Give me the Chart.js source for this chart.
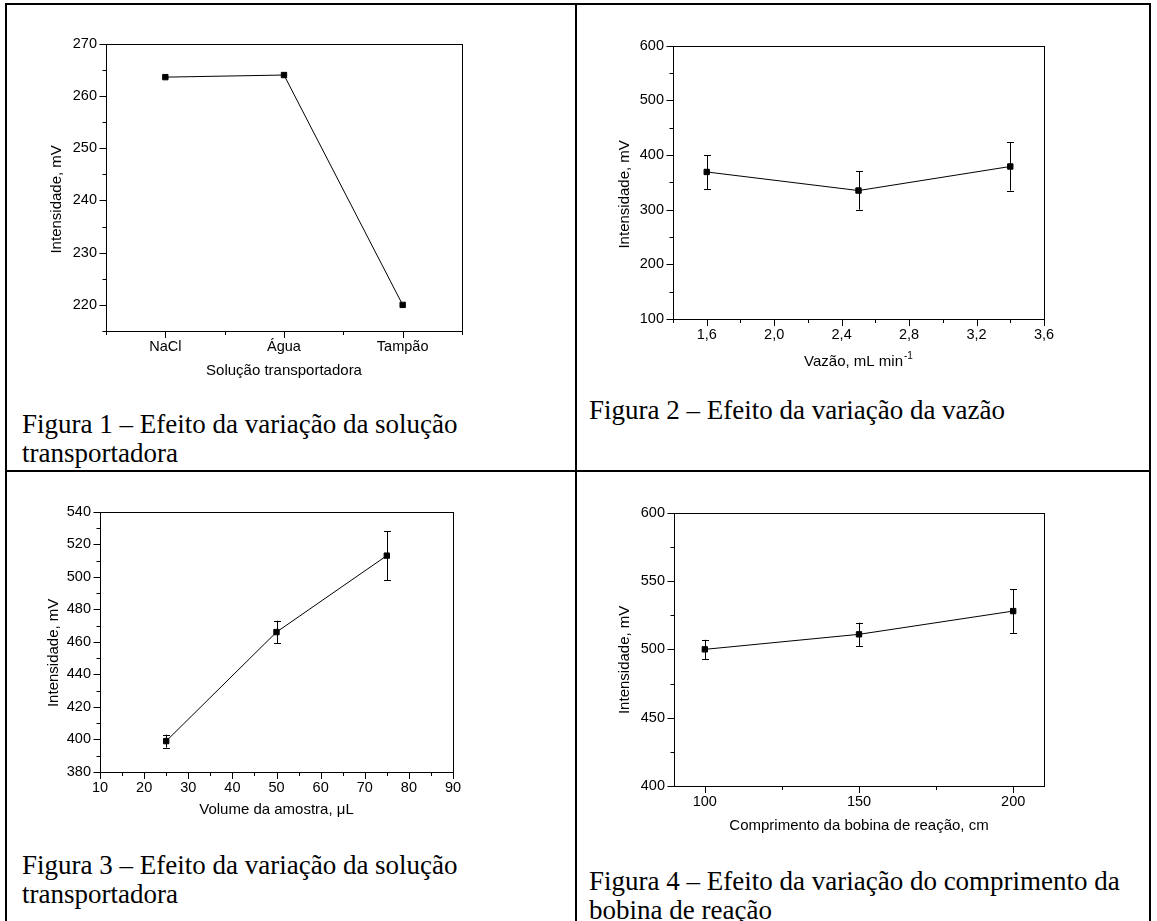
<!DOCTYPE html>
<html lang="pt">
<head>
<meta charset="utf-8">
<title>Figuras 1–4</title>
<script src="https://cdn.jsdelivr.net/npm/chart.js@4.4.1/dist/chart.umd.min.js"></script>
<style>
  html, body { margin: 0; padding: 0; background: #fff; }
  body { width: 1157px; height: 921px; position: relative; overflow: hidden; }
  .rule { position: absolute; background: #000; }
  .cap {
    position: absolute; white-space: nowrap; color: #000;
    font-family: "Liberation Serif", "Times New Roman", serif;
    font-size: 27px; line-height: 29px;
  }
  canvas { position: absolute; }
</style>
</head>
<body>
<!-- table rules -->
<div class="rule" style="left:5px;top:3px;width:1146px;height:2px"></div>
<div class="rule" style="left:5px;top:3px;width:2px;height:918px"></div>
<div class="rule" style="left:575px;top:3px;width:2px;height:918px"></div>
<div class="rule" style="left:1149px;top:3px;width:2px;height:918px"></div>
<div class="rule" style="left:5px;top:470px;width:1146px;height:2px"></div>

<div class="cap" style="left:22px;top:410px">Figura 1 – Efeito da variação da solução<br>transportadora</div>
<div class="cap" style="left:589px;top:396px">Figura 2 – Efeito da variação da vazão</div>
<div class="cap" style="left:22px;top:851px">Figura 3 – Efeito da variação da solução<br>transportadora</div>
<div class="cap" style="left:589px;top:867px">Figura 4 – Efeito da variação do comprimento da<br>bobina de reação</div>

<script>
// Figura 1 – solução transportadora
const carrierNames = ['NaCl', 'Água', 'Tampão'];
const carrierIntensity = [263.6, 264.0, 220.0];

// Figura 2 – vazão (mL min-1)
const flowRates = [1.6, 2.5, 3.4];
const flowIntensity = [369, 335, 379];
const flowError = [31, 35, 44];

// Figura 3 – volume da amostra (µL)
const sampleVolumes = [25, 50, 75];
const volumeIntensity = [399, 466, 513];
const volumeError = [4, 7, 15];

// Figura 4 – comprimento da bobina de reação (cm)
const coilLengths = [100, 150, 200];
const coilIntensity = [500, 511, 528];
const coilError = [7, 8.5, 16];

const intensityTitle = 'Intensidade, mV';

Chart.defaults.font.family = '"Liberation Sans", Arial, Helvetica, sans-serif';
Chart.defaults.font.size = 14.5;
Chart.defaults.color = '#000';
Chart.defaults.animation = false;

const Y_AXIS_W = 70, PAD_TOP = 14, PAD_RIGHT = 26, X_AXIS_H = 60;
const TITLE_FONT = '15px "Liberation Sans", Arial, sans-serif';
const SUP_FONT = '10px "Liberation Sans", Arial, sans-serif';

const isMult = (v, step, base = 0) => {
  const q = (v - base) / step;
  return Math.abs(q - Math.round(q)) < 1e-6;
};
const comma = v => v.toFixed(1).replace('.', ',');

// Origin-style frame, outward ticks, axis titles and error bars
const originFrame = {
  id: 'originFrame',
  beforeDatasetsDraw(chart, args, opts) {
    const {ctx, scales: {x, y}} = chart;
    ctx.save();
    ctx.strokeStyle = '#000';
    ctx.lineWidth = 1;
    chart.data.datasets.forEach(ds => {
      if (!ds.errors) return;
      ds.data.forEach((p, i) => {
        const e = ds.errors[i];
        const px = Math.round(x.getPixelForValue(p.x)) + 0.5;
        const yt = y.getPixelForValue(p.y + e);
        const yb = y.getPixelForValue(p.y - e);
        ctx.beginPath();
        ctx.moveTo(px, yt); ctx.lineTo(px, yb);
        ctx.moveTo(px - 3.5, Math.round(yt) + 0.5); ctx.lineTo(px + 3.5, Math.round(yt) + 0.5);
        ctx.moveTo(px - 3.5, Math.round(yb) + 0.5); ctx.lineTo(px + 3.5, Math.round(yb) + 0.5);
        ctx.stroke();
      });
    });
    ctx.restore();
  },
  afterDraw(chart, args, opts) {
    const {ctx, chartArea: a, scales: {x, y}} = chart;
    ctx.save();
    ctx.strokeStyle = '#000';
    ctx.lineWidth = 1;
    const L = Math.round(a.left), T = Math.round(a.top), R = Math.round(a.right), B = Math.round(a.bottom);
    ctx.strokeRect(L + 0.5, T + 0.5, R - L, B - T);

    ctx.beginPath();
    x.ticks.forEach(t => {
      if (opts.xTickFilter && !opts.xTickFilter(t.value)) return;
      const len = t.label ? 6 : 3;
      const px = Math.round(x.getPixelForValue(t.value)) + 0.5;
      ctx.moveTo(px, B + 1); ctx.lineTo(px, B + 1 + len);
    });
    y.ticks.forEach(t => {
      const len = t.label ? 6.5 : 3.5;
      const py = Math.round(y.getPixelForValue(t.value)) + 0.5;
      ctx.moveTo(L, py); ctx.lineTo(L - len, py);
    });
    ctx.stroke();

    // axis titles
    ctx.fillStyle = '#000';
    ctx.textBaseline = 'middle';
    ctx.font = TITLE_FONT;
    const cx = (a.left + a.right) / 2;
    const ty = a.bottom + opts.xTitleDy;
    const mainW = ctx.measureText(opts.xTitle).width;
    let supW = 0;
    if (opts.xTitleSup) { ctx.font = SUP_FONT; supW = ctx.measureText(opts.xTitleSup).width + 1; ctx.font = TITLE_FONT; }
    const x0 = cx - (mainW + supW) / 2;
    ctx.textAlign = 'left';
    ctx.fillText(opts.xTitle, x0, ty);
    if (opts.xTitleSup) {
      ctx.font = SUP_FONT;
      ctx.fillText(opts.xTitleSup, x0 + mainW + 1, ty - 6);
      ctx.font = TITLE_FONT;
    }
    ctx.translate(a.left + opts.yTitleDx, (a.top + a.bottom) / 2 + opts.yTitleDy);
    ctx.rotate(-Math.PI / 2);
    ctx.textAlign = 'center';
    ctx.fillText(opts.yTitle, 0, 0);
    ctx.restore();
  }
};

function buildChart(spec) {
  const b = spec.box;
  const w = b.right - b.left + Y_AXIS_W + PAD_RIGHT;
  const h = b.bottom - b.top + PAD_TOP + X_AXIS_H;
  const canvas = document.createElement('canvas');
  canvas.width = w; canvas.height = h;
  canvas.style.left = (b.left - Y_AXIS_W) + 'px';
  canvas.style.top = (b.top - PAD_TOP) + 'px';
  canvas.style.width = w + 'px';
  canvas.style.height = h + 'px';
  document.body.appendChild(canvas);

  const axisBase = {
    type: 'linear',
    grid: { display: false, drawTicks: false },
    border: { display: false }
  };

  return new Chart(canvas, {
    type: 'scatter',
    data: {
      datasets: [{
        data: spec.xs.map((v, i) => ({ x: v, y: spec.ys[i] })),
        errors: spec.errs || null,
        showLine: true,
        borderColor: '#000',
        borderWidth: 1,
        tension: 0,
        pointStyle: 'rect',
        pointRadius: 3.8,
        pointBorderWidth: 1,
        pointBackgroundColor: '#000',
        pointBorderColor: '#000'
      }]
    },
    options: {
      responsive: false,
      animation: false,
      layout: { padding: { left: 0, top: PAD_TOP, right: PAD_RIGHT, bottom: 0 } },
      plugins: {
        legend: { display: false },
        tooltip: { enabled: false },
        originFrame: {
          xTitle: spec.xTitle, xTitleSup: spec.xTitleSup || null,
          xTitleDy: spec.xTitleDy,
          yTitle: intensityTitle, yTitleDx: spec.yTitleDx, yTitleDy: spec.yTitleDy,
          xTickFilter: spec.xTickFilter || null
        }
      },
      scales: {
        x: Object.assign({}, axisBase, {
          min: spec.xMin, max: spec.xMax,
          ticks: { stepSize: spec.xStep, includeBounds: false, autoSkip: false,
                   maxRotation: 0, minRotation: 0, padding: 7, callback: spec.xLabel },
          afterFit: s => { s.height = X_AXIS_H; }
        }),
        y: Object.assign({}, axisBase, {
          min: spec.yMin, max: spec.yMax,
          ticks: { stepSize: spec.yStep, includeBounds: false, autoSkip: false,
                   padding: 9, callback: spec.yLabel },
          afterFit: s => { s.width = Y_AXIS_W; }
        })
      }
    },
    plugins: [originFrame]
  });
}

// Figura 1
buildChart({
  box: { left: 106, top: 40, right: 462, bottom: 331 },
  xs: carrierNames.map((_, i) => i), ys: carrierIntensity,
  xMin: -0.5, xMax: carrierNames.length - 0.5, xStep: 0.5,
  xLabel: v => Number.isInteger(v) ? carrierNames[v] : '',
  yMin: 215, yMax: 270, yStep: 5,
  yLabel: v => isMult(v, 10) ? String(v) : '',
  xTitle: 'Solução transportadora', xTitleDy: 40,
  yTitleDx: -49, yTitleDy: 12
});

// Figura 2
buildChart({
  box: { left: 673, top: 42, right: 1044, bottom: 319 },
  xs: flowRates, ys: flowIntensity, errs: flowError,
  xMin: 1.4, xMax: 3.6, xStep: 0.2,
  xLabel: v => isMult(v, 0.4, 1.6) ? comma(v) : '',
  yMin: 100, yMax: 600, yStep: 50,
  yLabel: v => isMult(v, 100) ? String(v) : '',
  xTitle: 'Vazão, mL min', xTitleSup: '-1', xTitleDy: 43,
  yTitleDx: -48, yTitleDy: 12
});

// Figura 3
buildChart({
  box: { left: 100, top: 508, right: 453, bottom: 772 },
  xs: sampleVolumes, ys: volumeIntensity, errs: volumeError,
  xMin: 10, xMax: 90, xStep: 5,
  xLabel: v => isMult(v, 10) ? String(v) : '',
  yMin: 380, yMax: 540, yStep: 10,
  yLabel: v => isMult(v, 20) ? String(v) : '',
  xTitle: 'Volume da amostra, μL', xTitleDy: 38,
  yTitleDx: -46, yTitleDy: 11
});

// Figura 4
buildChart({
  box: { left: 674, top: 509, right: 1044, bottom: 786 },
  xs: coilLengths, ys: coilIntensity, errs: coilError,
  xMin: 90, xMax: 210, xStep: 25,
  xLabel: v => isMult(v, 50) ? String(v) : '',
  xTickFilter: v => isMult(v, 25),
  yMin: 400, yMax: 600, yStep: 25,
  yLabel: v => isMult(v, 50) ? String(v) : '',
  xTitle: 'Comprimento da bobina de reação, cm', xTitleDy: 40,
  yTitleDx: -49, yTitleDy: 10.5
});
</script>
</body>
</html>
